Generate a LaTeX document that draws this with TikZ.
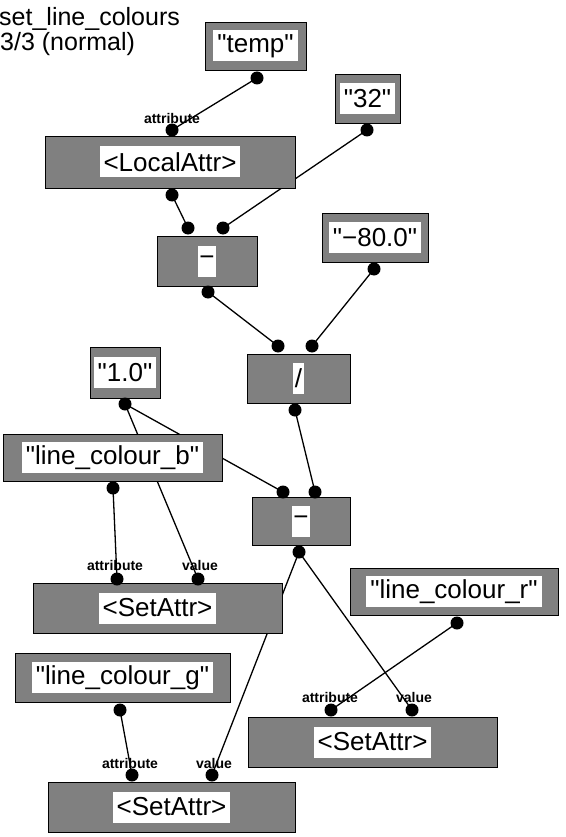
\documentclass[tikz,border=0pt]{standalone}
\usepackage{fontspec}
\setmainfont{Liberation Sans}
\newfontfamily\lib{Liberation Sans}
\newcommand\dq{\symbol{34}}
\pgfdeclarelayer{bg}
\pgfsetlayers{bg,main}
\tikzset{
  box/.style={draw=black, line width=0.8pt, fill=black!50, inner sep=0pt},
  lbl/.style={fill=white, inner xsep=4pt, inner ysep=0pt, minimum height=31pt,
              font=\lib\fontsize{26}{28}\selectfont},
  oplbl/.style={lbl, inner xsep=1.5pt},
  port/.style={circle, fill=black, inner sep=0pt, minimum size=13pt},
  plabel/.style={font=\lib\fontsize{14}{14}\selectfont\bfseries, inner sep=0pt},
  wire/.style={line width=1.3pt, draw=black},
  title/.style={font=\lib\fontsize{25}{27}\selectfont, inner sep=0pt, anchor=base west}
}
\begin{document}
\begin{tikzpicture}[x=1pt,y=-1pt]
\useasboundingbox (0,0) rectangle (565,837);

% title
\node[title] (t1) at (-1,26) {set\_line\_colours};
\node[title] (t2) at (0,51) {3/3 (normal)};

% boxes
\node[box, minimum width=101pt, minimum height=48pt] (temp) at (255.5,46) {};
\node[lbl] (templ) at (temp) {\dq temp\dq};

\node[box, minimum width=65pt, minimum height=49pt] (n32) at (367.5,98.5) {};
\node[lbl] (n32l) at (n32) {\dq 32\dq};

\node[box, minimum width=250pt, minimum height=52pt] (la) at (170,162) {};
\node[lbl] (lal) at (la) {<LocalAttr>};

\node[box, minimum width=100pt, minimum height=50pt] (minus) at (207,261) {};
\node[oplbl] (minusl) at (minus) {−};

\node[box, minimum width=106pt, minimum height=49pt] (m80) at (375,237.5) {};
\node[lbl] (m80l) at (m80) {\dq −80.0\dq};

\node[box, minimum width=103pt, minimum height=49pt] (div) at (298.5,378.5) {};
\node[oplbl] (divl) at (div) {/};

\node[box, minimum width=70pt, minimum height=51pt] (one) at (125,372.5) {};
\node[lbl] (onel) at (one) {\dq 1.0\dq};

\node[box, minimum width=219pt, minimum height=47pt] (lcb) at (112.5,457.5) {};
\node[lbl] (lcbl) at (lcb) {\dq line\_colour\_b\dq};

\node[box, minimum width=98pt, minimum height=48pt] (eq) at (301,521) {};
\node[oplbl] (eql) at (eq) {−};

\node[box, minimum width=249pt, minimum height=50pt] (sab) at (157.5,608) {};
\node[lbl] (sabl) at (sab) {<SetAttr>};

\node[box, minimum width=208pt, minimum height=47pt] (lcr) at (454,591.5) {};
\node[lbl] (lcrl) at (lcr) {\dq line\_colour\_r\dq};

\node[box, minimum width=249pt, minimum height=50pt] (sar) at (372.5,742) {};
\node[lbl] (sarl) at (sar) {<SetAttr>};

\node[box, minimum width=215pt, minimum height=49pt] (lcg) at (122.5,677.5) {};
\node[lbl] (lcgl) at (lcg) {\dq line\_colour\_g\dq};

\node[box, minimum width=247pt, minimum height=50pt] (sag) at (171.5,807) {};
\node[lbl] (sagl) at (sag) {<SetAttr>};

% ports
\node[port] (temp-o) at (257,78) {};
\node[port] (la-i) at (172,130) {};
\node[port] (la-o) at (172,195) {};
\node[port] (n32-o) at (367,130) {};
\node[port] (minus-i1) at (188,228) {};
\node[port] (minus-i2) at (223,228) {};
\node[port] (minus-o) at (208,292) {};
\node[port] (m80-o) at (374,269) {};
\node[port] (div-i1) at (278,346) {};
\node[port] (div-i2) at (312,346) {};
\node[port] (div-o) at (295,410) {};
\node[port] (one-o) at (125,404) {};
\node[port] (lcb-o) at (113,488) {};
\node[port] (eq-i1) at (283,492) {};
\node[port] (eq-i2) at (315,492) {};
\node[port] (eq-o) at (299,552) {};
\node[port] (sab-i1) at (117,579) {};
\node[port] (sab-i2) at (198,579) {};
\node[port] (lcr-o) at (457,623) {};
\node[port] (sar-i1) at (331,710) {};
\node[port] (sar-i2) at (412,710) {};
\node[port] (lcg-o) at (120,710) {};
\node[port] (sag-i1) at (132,775) {};
\node[port] (sag-i2) at (212,775) {};

% port labels
\node[plabel] (la-a) at (172,118) {attribute};
\node[plabel] (sab-a) at (115,565) {attribute};
\node[plabel] (sab-v) at (200,565) {value};
\node[plabel] (sar-a) at (330,697) {attribute};
\node[plabel] (sar-v) at (414,697) {value};
\node[plabel] (sag-a) at (130,763) {attribute};
\node[plabel] (sag-v) at (214,763) {value};

% connectors
\begin{pgfonlayer}{bg}
\draw[wire] (temp-o.center) -- (la-i.center);
\draw[wire] (la-o.center) -- (minus-i1.center);
\draw[wire] (n32-o.center) -- (minus-i2.center);
\draw[wire] (minus-o.center) -- (div-i1.center);
\draw[wire] (m80-o.center) -- (div-i2.center);
\draw[wire] (div-o.center) -- (eq-i2.center);
\draw[wire] (one-o.center) -- (eq-i1.center);
\draw[wire] (one-o.center) -- (sab-i2.center);
\draw[wire] (lcb-o.center) -- (sab-i1.center);
\draw[wire] (eq-o.center) -- (sar-i2.center);
\draw[wire] (eq-o.center) -- (sag-i2.center);
\draw[wire] (lcr-o.center) -- (sar-i1.center);
\draw[wire] (lcg-o.center) -- (sag-i1.center);
\end{pgfonlayer}
\end{tikzpicture}
\end{document}
